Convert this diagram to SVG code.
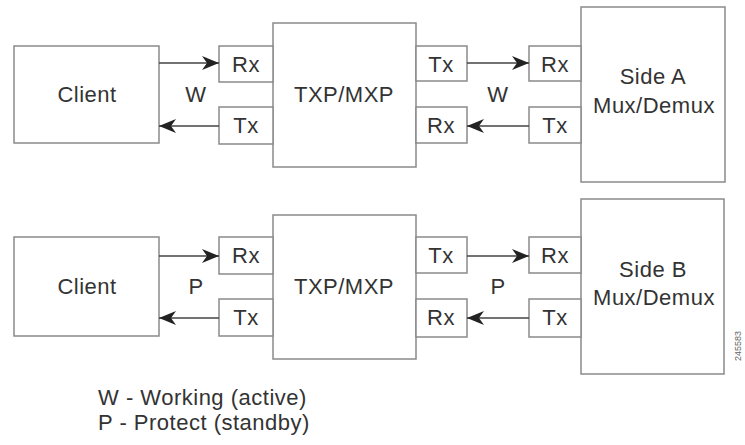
<svg xmlns="http://www.w3.org/2000/svg" width="745" height="445" viewBox="0 0 745 445">
<defs>
<style>
.box{fill:#fff;stroke:#8a8a8a;stroke-width:1.5}
.ln{stroke:#444;stroke-width:1.5;fill:none}
text{font-family:"Liberation Sans",Arial,sans-serif;fill:#333;font-size:22px;letter-spacing:0.5px;text-anchor:middle}
.lg{text-anchor:start}
</style>
<marker id="ah" markerWidth="18" markerHeight="14" refX="17" refY="7" orient="auto" markerUnits="userSpaceOnUse">
<path d="M0,0 L17,7 L0,14 L5,7 Z" fill="#222"/>
</marker>
</defs>
<rect width="745" height="445" fill="#fff"/>
<g id="row1">
<g id="client1"><rect class="box" x="14" y="46" width="145" height="97"/><text x="87" y="102">Client</text></g>
<g id="txp1">
<rect class="box" x="273" y="23" width="143" height="144"/><text x="344" y="102">TXP/MXP</text>
<rect class="box" x="219" y="46" width="54" height="36"/><text x="246" y="72">Rx</text>
<rect class="box" x="219" y="107" width="54" height="37"/><text x="246" y="133">Tx</text>
<rect class="box" x="416" y="46" width="51" height="35"/><text x="441" y="72">Tx</text>
<rect class="box" x="416" y="107" width="51" height="36"/><text x="441" y="133">Rx</text>
</g>
<g id="sideA">
<rect class="box" x="581" y="7" width="144" height="175"/><text x="653" y="84">Side A</text><text x="654" y="113">Mux/Demux</text>
<rect class="box" x="529" y="46" width="52" height="35"/><text x="555" y="72">Rx</text>
<rect class="box" x="529" y="107" width="52" height="36"/><text x="555" y="133">Tx</text>
</g>
<text x="196" y="102">W</text>
<text x="498" y="102">W</text>
</g>
<g id="row2">
<g id="client2"><rect class="box" x="14" y="237" width="145" height="99"/><text x="87" y="294">Client</text></g>
<g id="txp2">
<rect class="box" x="273" y="215" width="143" height="144"/><text x="344" y="294">TXP/MXP</text>
<rect class="box" x="219" y="237" width="54" height="37"/><text x="246" y="263">Rx</text>
<rect class="box" x="219" y="299" width="54" height="37"/><text x="246" y="325">Tx</text>
<rect class="box" x="416" y="237" width="51" height="36"/><text x="441" y="263">Tx</text>
<rect class="box" x="416" y="299" width="51" height="38"/><text x="441" y="325">Rx</text>
</g>
<g id="sideB">
<rect class="box" x="581" y="199" width="143" height="175"/><text x="653" y="277">Side B</text><text x="654" y="305">Mux/Demux</text>
<rect class="box" x="529" y="237" width="52" height="36"/><text x="555" y="263">Rx</text>
<rect class="box" x="529" y="299" width="52" height="38"/><text x="555" y="325">Tx</text>
</g>
<text x="196" y="294">P</text>
<text x="498" y="294">P</text>
</g>
<g id="connectors">
<line class="ln" x1="159" y1="63" x2="219" y2="63" marker-end="url(#ah)"/>
<line class="ln" x1="219" y1="126" x2="159" y2="126" marker-end="url(#ah)"/>
<line class="ln" x1="467" y1="63" x2="529" y2="63" marker-end="url(#ah)"/>
<line class="ln" x1="529" y1="126" x2="467" y2="126" marker-end="url(#ah)"/>
<line class="ln" x1="159" y1="256" x2="219" y2="256" marker-end="url(#ah)"/>
<line class="ln" x1="219" y1="318" x2="159" y2="318" marker-end="url(#ah)"/>
<line class="ln" x1="467" y1="256" x2="529" y2="256" marker-end="url(#ah)"/>
<line class="ln" x1="529" y1="318" x2="467" y2="318" marker-end="url(#ah)"/>
</g>
<g id="legend">
<text class="lg" x="98" y="405">W - Working (active)</text>
<text class="lg" x="98" y="430">P - Protect (standby)</text>
</g>
<text x="0" y="0" transform="translate(741,346) rotate(-90)" style="font-size:9px;letter-spacing:0;fill:#666">245583</text>
</svg>
